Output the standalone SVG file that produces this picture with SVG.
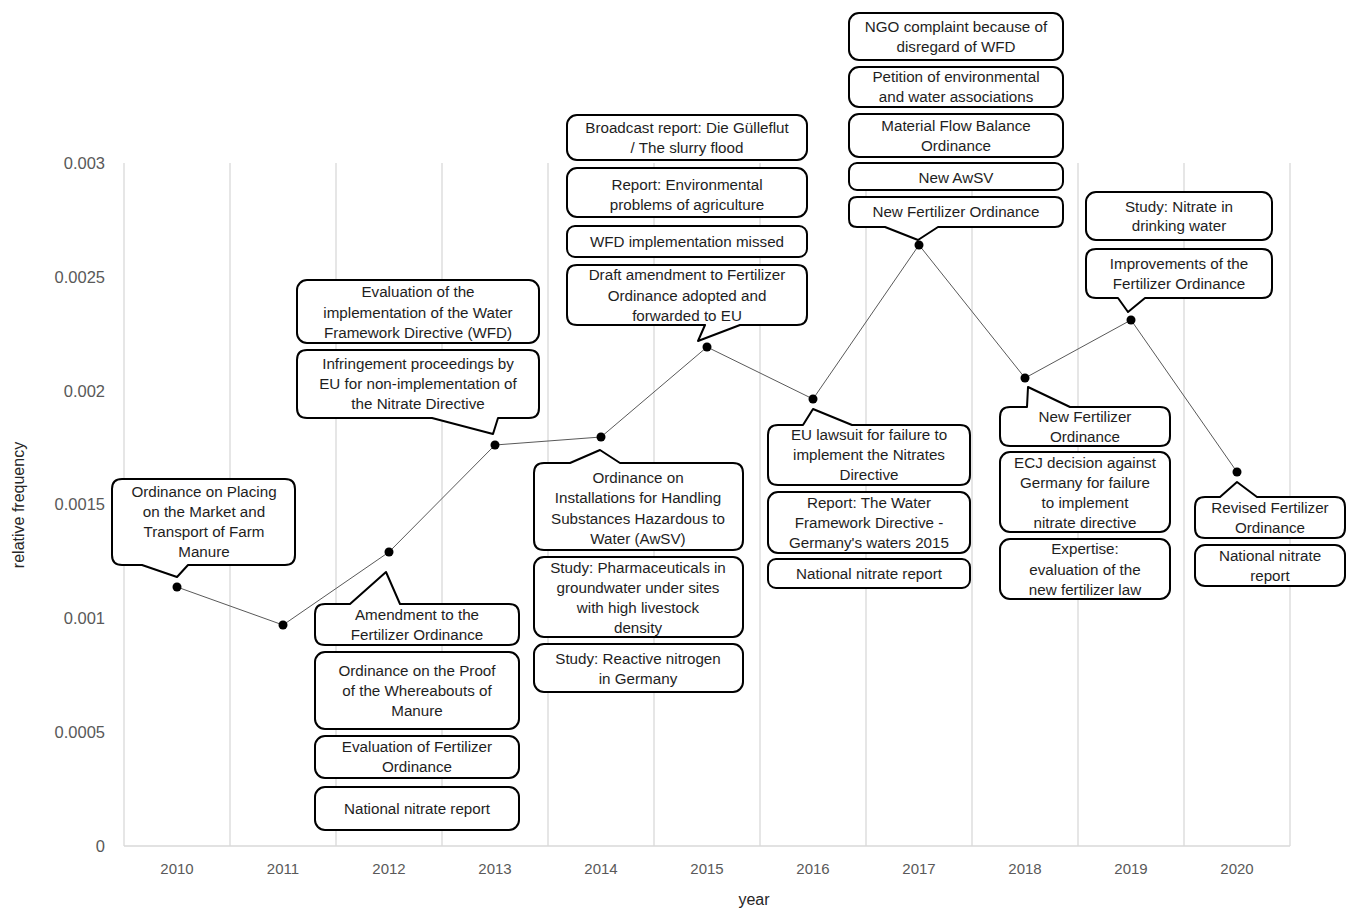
<svg xmlns="http://www.w3.org/2000/svg" width="1352" height="909" viewBox="0 0 1352 909">
<style>
.grid{stroke:#d9d9d9;stroke-width:1.3;fill:none}
.ytick{font-family:"Liberation Sans",Arial,sans-serif;font-size:16.5px;fill:#595959;text-anchor:end}
.xtick{font-family:"Liberation Sans",Arial,sans-serif;font-size:15px;fill:#595959;text-anchor:middle}
.title{font-family:"Liberation Sans",Arial,sans-serif;font-size:16px;fill:#262626;text-anchor:middle}
.box{fill:#fff;stroke:#000;stroke-width:2;stroke-linejoin:round}
.lbl{font-family:"Liberation Sans",Arial,sans-serif;font-size:15.2px;fill:#1e1e1e;text-anchor:middle}
.series{fill:none;stroke:#595959;stroke-width:1}
.pt{fill:#000}
</style>
<rect width="1352" height="909" fill="#fff"/>
<g id="axes">
<path class="grid" d="M124 163V846M230 163V846M336 163V846M442 163V846M548 163V846M654 163V846M760 163V846M866 163V846M972 163V846M1078 163V846M1184 163V846M1290 163V846M124 846H1290"/>
<text class="ytick" x="105" y="169">0.003</text>
<text class="ytick" x="105" y="283">0.0025</text>
<text class="ytick" x="105" y="397">0.002</text>
<text class="ytick" x="105" y="510">0.0015</text>
<text class="ytick" x="105" y="624">0.001</text>
<text class="ytick" x="105" y="738">0.0005</text>
<text class="ytick" x="105" y="852">0</text>
<text class="xtick" x="177" y="874">2010</text>
<text class="xtick" x="283" y="874">2011</text>
<text class="xtick" x="389" y="874">2012</text>
<text class="xtick" x="495" y="874">2013</text>
<text class="xtick" x="601" y="874">2014</text>
<text class="xtick" x="707" y="874">2015</text>
<text class="xtick" x="813" y="874">2016</text>
<text class="xtick" x="919" y="874">2017</text>
<text class="xtick" x="1025" y="874">2018</text>
<text class="xtick" x="1131" y="874">2019</text>
<text class="xtick" x="1237" y="874">2020</text>
<text class="title" x="754" y="905">year</text>
<text class="title" transform="translate(24 505) rotate(-90)">relative frequency</text>
</g>
<g id="connectors">
<polyline class="series" points="177,587 283,625 389,552 495,445 601,437 707,347 813,399 919,245 1025,378 1131,320 1237,472"/>
<circle class="pt" cx="177" cy="587" r="4.5"/>
<circle class="pt" cx="283" cy="625" r="4.5"/>
<circle class="pt" cx="389" cy="552" r="4.5"/>
<circle class="pt" cx="495" cy="445" r="4.5"/>
<circle class="pt" cx="601" cy="437" r="4.5"/>
<circle class="pt" cx="707" cy="347" r="4.5"/>
<circle class="pt" cx="813" cy="399" r="4.5"/>
<circle class="pt" cx="919" cy="245" r="4.5"/>
<circle class="pt" cx="1025" cy="378" r="4.5"/>
<circle class="pt" cx="1131" cy="320" r="4.5"/>
<circle class="pt" cx="1237" cy="472" r="4.5"/>
</g>
<g id="n2010a">
<path class="box" d="M122 479H285Q295 479 295 489V555Q295 565 285 565H188L177 577L142 565H122Q112 565 112 555V489Q112 479 122 479Z"/>
<text class="lbl" x="204" y="497">Ordinance on Placing</text>
<text class="lbl" x="204" y="517">on the Market and</text>
<text class="lbl" x="204" y="537">Transport of Farm</text>
<text class="lbl" x="204" y="557">Manure</text>
</g>
<g id="n2012a">
<path class="box" d="M325 604H350L386 572L400 604H509Q519 604 519 614V635Q519 645 509 645H325Q315 645 315 635V614Q315 604 325 604Z"/>
<text class="lbl" x="417" y="620">Amendment to the</text>
<text class="lbl" x="417" y="640">Fertilizer Ordinance</text>
</g>
<g id="n2012b">
<rect class="box" x="315" y="652" width="204" height="77" rx="10"/>
<text class="lbl" x="417" y="676">Ordinance on the Proof</text>
<text class="lbl" x="417" y="696">of the Whereabouts of</text>
<text class="lbl" x="417" y="716">Manure</text>
</g>
<g id="n2012c">
<rect class="box" x="315" y="736" width="204" height="42" rx="10"/>
<text class="lbl" x="417" y="752">Evaluation of Fertilizer</text>
<text class="lbl" x="417" y="772">Ordinance</text>
</g>
<g id="n2012d">
<rect class="box" x="315" y="787" width="204" height="43" rx="10"/>
<text class="lbl" x="417" y="814">National nitrate report</text>
</g>
<g id="n2013a">
<rect class="box" x="297" y="280" width="242" height="63" rx="10"/>
<text class="lbl" x="418" y="297">Evaluation of the</text>
<text class="lbl" x="418" y="318">implementation of the Water</text>
<text class="lbl" x="418" y="338">Framework Directive (WFD)</text>
</g>
<g id="n2013b">
<path class="box" d="M307 350H529Q539 350 539 360V408Q539 418 529 418H498L493 434L432 418H307Q297 418 297 408V360Q297 350 307 350Z"/>
<text class="lbl" x="418" y="369">Infringement proceedings by</text>
<text class="lbl" x="418" y="389">EU for non-implementation of</text>
<text class="lbl" x="418" y="409">the Nitrate Directive</text>
</g>
<g id="n2014a">
<path class="box" d="M544 463H570L600 450L620 463H733Q743 463 743 473V540Q743 550 733 550H544Q534 550 534 540V473Q534 463 544 463Z"/>
<text class="lbl" x="638" y="483">Ordinance on</text>
<text class="lbl" x="638" y="503">Installations for Handling</text>
<text class="lbl" x="638" y="524">Substances Hazardous to</text>
<text class="lbl" x="638" y="544">Water (AwSV)</text>
</g>
<g id="n2014b">
<rect class="box" x="534" y="557" width="209" height="80" rx="10"/>
<text class="lbl" x="638" y="573">Study: Pharmaceuticals in</text>
<text class="lbl" x="638" y="593">groundwater under sites</text>
<text class="lbl" x="638" y="613">with high livestock</text>
<text class="lbl" x="638" y="633">density</text>
</g>
<g id="n2014c">
<rect class="box" x="534" y="644" width="209" height="48" rx="10"/>
<text class="lbl" x="638" y="664">Study: Reactive nitrogen</text>
<text class="lbl" x="638" y="684">in Germany</text>
</g>
<g id="n2015a">
<rect class="box" x="567" y="115" width="240" height="45" rx="10"/>
<text class="lbl" x="687" y="133">Broadcast report: Die Gülleflut</text>
<text class="lbl" x="687" y="153">/ The slurry flood</text>
</g>
<g id="n2015b">
<rect class="box" x="567" y="168" width="240" height="49" rx="10"/>
<text class="lbl" x="687" y="190">Report: Environmental</text>
<text class="lbl" x="687" y="210">problems of agriculture</text>
</g>
<g id="n2015c">
<rect class="box" x="567" y="226" width="240" height="31" rx="8"/>
<text class="lbl" x="687" y="247">WFD implementation missed</text>
</g>
<g id="n2015d">
<path class="box" d="M577 265H797Q807 265 807 275V315Q807 325 797 325H740L698 341L705 325H577Q567 325 567 315V275Q567 265 577 265Z"/>
<text class="lbl" x="687" y="280">Draft amendment to Fertilizer</text>
<text class="lbl" x="687" y="301">Ordinance adopted and</text>
<text class="lbl" x="687" y="321">forwarded to EU</text>
</g>
<g id="n2016a">
<path class="box" d="M778 425H803L813 409L852 425H960Q970 425 970 435V475Q970 485 960 485H778Q768 485 768 475V435Q768 425 778 425Z"/>
<text class="lbl" x="869" y="440">EU lawsuit for failure to</text>
<text class="lbl" x="869" y="460">implement the Nitrates</text>
<text class="lbl" x="869" y="480">Directive</text>
</g>
<g id="n2016b">
<rect class="box" x="768" y="492" width="202" height="61" rx="10"/>
<text class="lbl" x="869" y="508">Report: The Water</text>
<text class="lbl" x="869" y="528">Framework Directive -</text>
<text class="lbl" x="869" y="548">Germany's waters 2015</text>
</g>
<g id="n2016c">
<rect class="box" x="768" y="559" width="202" height="29" rx="8"/>
<text class="lbl" x="869" y="579">National nitrate report</text>
</g>
<g id="n2017a">
<rect class="box" x="849" y="13" width="214" height="47" rx="10"/>
<text class="lbl" x="956" y="32">NGO complaint because of</text>
<text class="lbl" x="956" y="52">disregard of WFD</text>
</g>
<g id="n2017b">
<rect class="box" x="849" y="67" width="214" height="40" rx="10"/>
<text class="lbl" x="956" y="82">Petition of environmental</text>
<text class="lbl" x="956" y="102">and water associations</text>
</g>
<g id="n2017c">
<rect class="box" x="849" y="114" width="214" height="43" rx="10"/>
<text class="lbl" x="956" y="131">Material Flow Balance</text>
<text class="lbl" x="956" y="151">Ordinance</text>
</g>
<g id="n2017d">
<rect class="box" x="849" y="163" width="214" height="27" rx="8"/>
<text class="lbl" x="956" y="183">New AwSV</text>
</g>
<g id="n2017e">
<path class="box" d="M857 197H1055Q1063 197 1063 205V219Q1063 227 1055 227H938L918 240L885 227H857Q849 227 849 219V205Q849 197 857 197Z"/>
<text class="lbl" x="956" y="217">New Fertilizer Ordinance</text>
</g>
<g id="n2018a">
<path class="box" d="M1010 407H1027L1028 387L1070 407H1160Q1170 407 1170 417V436Q1170 446 1160 446H1010Q1000 446 1000 436V417Q1000 407 1010 407Z"/>
<text class="lbl" x="1085" y="422">New Fertilizer</text>
<text class="lbl" x="1085" y="442">Ordinance</text>
</g>
<g id="n2018b">
<rect class="box" x="1000" y="452" width="170" height="80" rx="10"/>
<text class="lbl" x="1085" y="468">ECJ decision against</text>
<text class="lbl" x="1085" y="488">Germany for failure</text>
<text class="lbl" x="1085" y="508">to implement</text>
<text class="lbl" x="1085" y="528">nitrate directive</text>
</g>
<g id="n2018c">
<rect class="box" x="1000" y="539" width="170" height="60" rx="10"/>
<text class="lbl" x="1085" y="554">Expertise:</text>
<text class="lbl" x="1085" y="575">evaluation of the</text>
<text class="lbl" x="1085" y="595">new fertilizer law</text>
</g>
<g id="n2019a">
<rect class="box" x="1086" y="192" width="186" height="48" rx="10"/>
<text class="lbl" x="1179" y="212">Study: Nitrate in</text>
<text class="lbl" x="1179" y="231">drinking water</text>
</g>
<g id="n2019b">
<path class="box" d="M1096 249H1262Q1272 249 1272 259V288Q1272 298 1262 298H1145L1128 312L1118 298H1096Q1086 298 1086 288V259Q1086 249 1096 249Z"/>
<text class="lbl" x="1179" y="269">Improvements of the</text>
<text class="lbl" x="1179" y="289">Fertilizer Ordinance</text>
</g>
<g id="n2020a">
<path class="box" d="M1205 497H1220L1237 482L1257 497H1335Q1345 497 1345 507V528Q1345 538 1335 538H1205Q1195 538 1195 528V507Q1195 497 1205 497Z"/>
<text class="lbl" x="1270" y="513">Revised Fertilizer</text>
<text class="lbl" x="1270" y="533">Ordinance</text>
</g>
<g id="n2020b">
<rect class="box" x="1195" y="545" width="150" height="41" rx="10"/>
<text class="lbl" x="1270" y="561">National nitrate</text>
<text class="lbl" x="1270" y="581">report</text>
</g>
</svg>
